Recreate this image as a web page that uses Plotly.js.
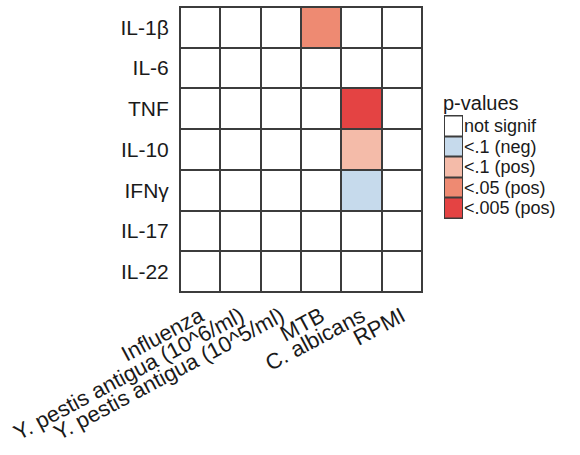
<!DOCTYPE html>
<html>
<head>
<meta charset="utf-8">
<script src="https://cdn.plot.ly/plotly-3.0.1.min.js"></script>
<style>html,body{margin:0;padding:0;background:#fff;}#chart{width:580px;height:455px;}</style>
</head>
<body>
<div id="chart"></div>
<script>
// Stimuli (columns) and cytokines (rows)
var stimuli = ['Influenza', 'Y. pestis antigua (10^6/ml)', 'Y. pestis antigua (10^5/ml)', 'MTB', 'C. albicans', 'RPMI'];
var cytokines = ['IL-1β', 'IL-6', 'TNF', 'IL-10', 'IFNγ', 'IL-17', 'IL-22'];

// p-value class codes: 0 not signif, 1 <.1 (neg), 2 <.1 (pos), 3 <.05 (pos), 4 <.005 (pos)
var il1b  = [0, 0, 0, 3, 0, 0];
var il6   = [0, 0, 0, 0, 0, 0];
var tnf   = [0, 0, 0, 0, 4, 0];
var il10  = [0, 0, 0, 0, 2, 0];
var ifng  = [0, 0, 0, 0, 1, 0];
var il17  = [0, 0, 0, 0, 0, 0];
var il22  = [0, 0, 0, 0, 0, 0];

var levelLabels = ['not signif', '<.1 (neg)', '<.1 (pos)', '<.05 (pos)', '<.005 (pos)'];
var levelCodes = [0, 1, 2, 3, 4];
var levelColors = ['#ffffff', '#c6daec', '#f4bba9', '#ee8a72', '#e44343'];

var zMatrix = [il1b, il6, tnf, il10, ifng, il17, il22];
var colorscale = levelColors.map(function (c, i) { return [i / (levelColors.length - 1), c]; });

var FONT = 'Liberation Sans, Arial, Helvetica, sans-serif';
var gridColor = '#3c3c3c';
var textColor = '#1a1a1a';

var main = {
  type: 'heatmap',
  x: stimuli,
  y: cytokines,
  z: zMatrix,
  zmin: 0, zmax: 4,
  colorscale: colorscale,
  showscale: false,
  xgap: 2, ygap: 2,
  hoverinfo: 'x+y+z'
};

var legendMap = {
  type: 'heatmap',
  x: ['key'],
  y: levelLabels,
  z: levelCodes.map(function (c) { return [c]; }),
  zmin: 0, zmax: 4,
  colorscale: colorscale,
  showscale: false,
  xgap: 2, ygap: 2,
  xaxis: 'x2', yaxis: 'y2',
  hoverinfo: 'y'
};

var layout = {
  width: 580, height: 455,
  margin: {l: 180, r: 10, t: 7, b: 163},
  paper_bgcolor: '#ffffff',
  plot_bgcolor: gridColor,
  font: {family: FONT, color: textColor, size: 21},
  showlegend: false,
  xaxis: {
    domain: [0, 242 / 390],
    type: 'category',
    tickmode: 'linear', tick0: 0, dtick: 1,
    tickangle: -28,
    ticks: '',
    ticklabelstandoff: 2,
    showgrid: false, zeroline: false,
    showline: true, mirror: true, linecolor: gridColor, linewidth: 1,
    tickfont: {size: 22, family: FONT, color: textColor},
    fixedrange: true
  },
  yaxis: {
    domain: [0, 1],
    type: 'category',
    tickmode: 'linear', tick0: 0, dtick: 1,
    autorange: 'reversed',
    ticks: '',
    ticklabelstandoff: 6,
    showgrid: false, zeroline: false,
    showline: true, mirror: true, linecolor: gridColor, linewidth: 1,
    tickfont: {size: 21, family: FONT, color: textColor},
    fixedrange: true
  },
  xaxis2: {
    domain: [(444 - 180) / 390, (463 - 180) / 390],
    anchor: 'y2',
    type: 'category',
    showticklabels: false, ticks: '',
    showgrid: false, zeroline: false,
    showline: true, mirror: true, linecolor: gridColor, linewidth: 1,
    fixedrange: true
  },
  yaxis2: {
    domain: [(292 - 218) / 285, (292 - 115.5) / 285],
    anchor: 'x2',
    side: 'right',
    type: 'category',
    tickmode: 'linear', tick0: 0, dtick: 1,
    autorange: 'reversed',
    ticks: '',
    ticklabelstandoff: 0,
    showgrid: false, zeroline: false,
    showline: false,
    tickfont: {size: 18, family: FONT, color: textColor},
    fixedrange: true
  },
  annotations: [{
    text: 'p-values',
    xref: 'paper', yref: 'paper',
    x: (441 - 180) / 390, y: (292 - 103) / 285,
    xanchor: 'left', yanchor: 'middle',
    showarrow: false,
    font: {size: 20, family: FONT, color: textColor}
  }]
};

Plotly.newPlot('chart', [main, legendMap], layout, {displayModeBar: false, staticPlot: true});
</script>
</body>
</html>
